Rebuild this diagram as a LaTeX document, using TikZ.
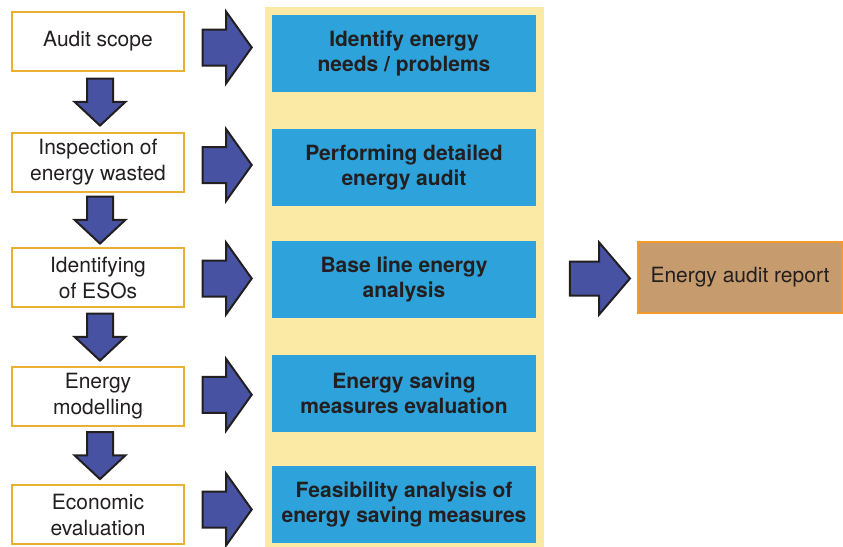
\documentclass[tikz,border=0pt]{standalone}
\usepackage{fontspec}
\setmainfont{TeX Gyre Heros}
\usetikzlibrary{shapes.arrows,calc}

\begin{document}
\begin{tikzpicture}[x=0.5pt,y=-0.5pt,
	leftbox/.style={draw=boxgold, line width=1pt, fill=white, minimum width=86pt,
		minimum height=29.5pt, inner sep=0pt, align=center, text=txtcol,
		font=\fontsize{10.5}{13}\selectfont},
	stepbox/.style={fill=stepblue, minimum width=132pt, minimum height=38.5pt,
		inner sep=0pt, align=center, text=txtcol,
		font=\bfseries\fontsize{10.5}{12.5}\selectfont},
	reportbox/.style={draw=reportorange, line width=1pt, fill=reporttan,
		minimum width=102pt, minimum height=35.5pt, inner sep=0pt, text=txtcol,
		font=\fontsize{10.5}{13}\selectfont},
	fatarrow/.style={single arrow, draw=txtcol, fill=arrowblue, line width=1pt,
		inner xsep=0pt},
	rightarrow/.style={fatarrow, minimum height=24.5pt, inner ysep=8.5pt,
		single arrow head extend=9pt, single arrow tip angle=109},
	downarrow/.style={fatarrow, minimum height=23.5pt, inner ysep=6pt,
		single arrow head extend=6.25pt, single arrow tip angle=94, rotate=-90},
	reportarrow/.style={fatarrow, minimum height=30pt, inner ysep=8pt,
		single arrow head extend=9.5pt, single arrow tip angle=99}]
	% colours
	\definecolor{txtcol}{HTML}{231F20}
	\definecolor{panelyellow}{HTML}{FBE9A6}
	\definecolor{stepblue}{HTML}{2EA2DA}
	\definecolor{arrowblue}{HTML}{4852A3}
	\definecolor{boxgold}{HTML}{E9B032}
	\definecolor{reporttan}{HTML}{C69B6D}
	\definecolor{reportorange}{HTML}{F29A2E}
	\useasboundingbox (0,0) rectangle (843,547);
	
	% yellow band behind the audit steps
	\fill[panelyellow] (265,7) rectangle (544,547);
	
	% left column
	\node[leftbox] (scope) at (98,41.5) {Audit scope};
	\node[leftbox] (inspect) at (98,162.5) {Inspection of\\energy wasted};
	\node[leftbox] (eso) at (98,277.5) {Identifying\\of ESOs};
	\node[leftbox] (model) at (98,396.5) {Energy\\modelling};
	\node[leftbox] (econ) at (98,514.5) {Economic\\evaluation};
	
	% audit steps
	\node[stepbox] (needs) at (404,53.5) {Identify energy\\needs / problems};
	\node[stepbox] (detail) at (404,167.5) {Performing detailed\\energy audit};
	\node[stepbox] (base) at (404,279.5) {Base line energy\\analysis};
	\node[stepbox] (saving) at (404,393) {Energy saving\\measures evaluation};
	\node[stepbox] (feas) at (404,504.5) {Feasibility analysis of\\energy saving measures};
	
	% result
	\node[reportbox] (report) at (740,277.5) {Energy audit report};
	
	% arrows down the left column (shift first, the style rotates)
	\foreach \a/\b in {scope/inspect, inspect/eso, eso/model, model/econ}
	\node[xshift=1pt, yshift=3pt, downarrow] at ($(\a.south)!0.5!(\b.north)$) {};
	
	% arrows into the steps
	\foreach \a/\b in {scope/needs, inspect/detail, eso/base, model/saving, econ/feas}
	\node[rightarrow, xshift=-3.75pt] at ($(\a.east)!0.5!(\b.west)$) {};
	
	\node[reportarrow, xshift=3pt] at ($(base.east)!0.5!(report.west)$) {};
\end{tikzpicture}
\end{document}
